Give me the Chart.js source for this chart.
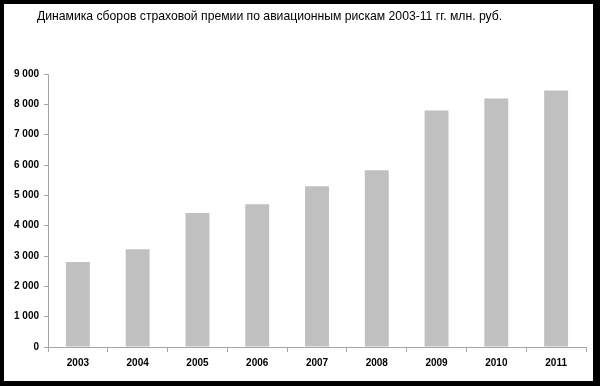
<!DOCTYPE html>
<html>
<head>
<meta charset="utf-8">
<script src="https://cdn.jsdelivr.net/npm/chart.js@4"></script>
<style>
  html, body { margin: 0; padding: 0; background: #000; }
  #frame { position: absolute; left: 4px; top: 4px; width: 589px; height: 377px; background: #fff; }
  #title { position: absolute; left: 33px; top: 5px; font: 12.2px "Liberation Sans", Arial, sans-serif; color: #000; white-space: nowrap; }
  #wrap { position: absolute; left: 0; top: 0; width: 589px; height: 377px; }
</style>
</head>
<body>
<div id="frame">
  <div id="wrap"><canvas id="chart"></canvas></div>
  <div id="title">Динамика сборов страховой премии по авиационным рискам 2003-11 гг. млн. руб.</div>
</div>
<script>
const years = ['2003', '2004', '2005', '2006', '2007', '2008', '2009', '2010', '2011'];
const premiums = [2800, 3220, 4420, 4710, 5300, 5830, 7800, 8190, 8460];
const yTicks = [0, 1000, 2000, 3000, 4000, 5000, 6000, 7000, 8000, 9000];

const fmt = v => String(v).replace(/\B(?=(\d{3})+(?!\d))/g, ' ');

new Chart(document.getElementById('chart'), {
    type: 'bar',
    data: {
        labels: years,
        datasets: [{
            data: premiums,
            backgroundColor: '#c0c0c0',
            barPercentage: 0.4,
            categoryPercentage: 1
        }]
    },
    options: {
        responsive: true,
        maintainAspectRatio: false,
        animation: false,
        layout: { padding: { top: 70, right: 7, left: 0, bottom: 0 } },
        plugins: {
            legend: { display: false },
            tooltip: { enabled: false }
        },
        scales: {
            x: {
                grid: { offset: true, drawOnChartArea: false, tickLength: 5, color: '#a6a6a6' },
                border: { color: '#a6a6a6' },
                ticks: { color: '#000', padding: 5, font: { family: 'Liberation Sans', size: 10, weight: 'bold' } },
                afterFit: s => { s.height = 34; }
            },
            y: {
                min: 0,
                max: 9000,
                afterBuildTicks: s => { s.ticks = yTicks.map(v => ({ value: v })); },
                grid: { drawOnChartArea: false, tickLength: 4, color: '#a6a6a6' },
                border: { color: '#a6a6a6' },
                ticks: { color: '#000', padding: 5, callback: v => fmt(v), font: { family: 'Liberation Sans', size: 10, weight: 'bold' } },
                afterFit: s => { s.width = 44; }
            }
        }
    }
});
</script>
</body>
</html>
